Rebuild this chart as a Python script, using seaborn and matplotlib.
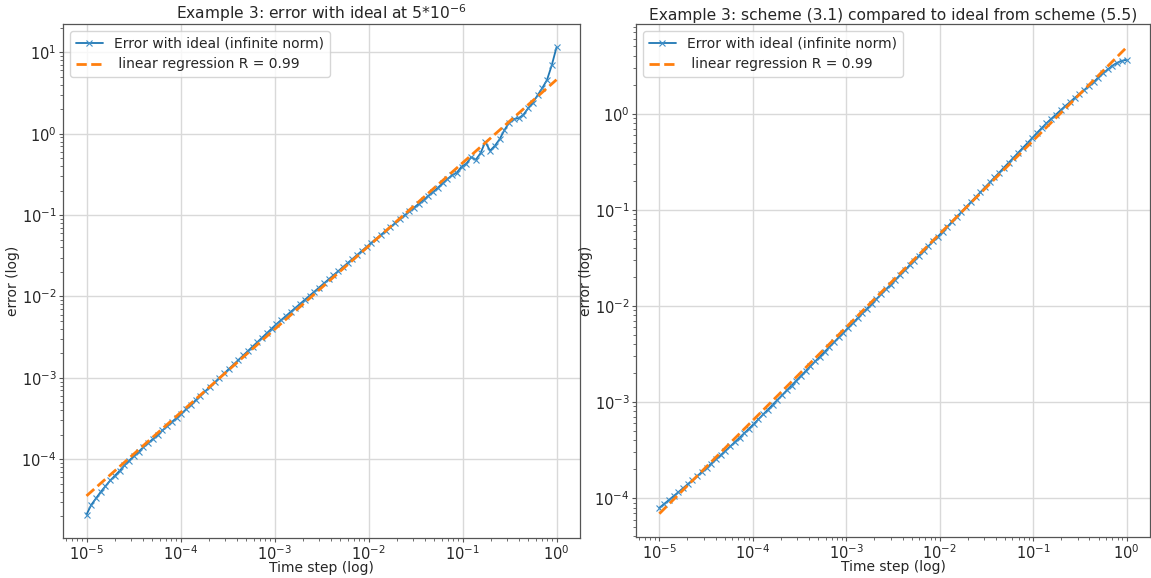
import numpy as np
import pandas as pd
import matplotlib
matplotlib.use("Agg")
import matplotlib.pyplot as plt
from matplotlib.ticker import NullFormatter
import seaborn as sns

# ---------------- data ----------------
n_steps = 100
time_step = np.logspace(-5, 0, n_steps)  # sampling grid of the experiment

# left panel: log10 of the error
err_left_log10 = [
    -4.68, -4.56, -4.48, -4.40, -4.33, -4.26, -4.20, -4.14, -4.075, -4.015,
    -3.96, -3.905, -3.85, -3.80, -3.75, -3.70, -3.645, -3.595, -3.54, -3.49,
    -3.44, -3.385, -3.33, -3.275, -3.22, -3.165, -3.11, -3.055, -3.00, -2.945,
    -2.89, -2.835, -2.78, -2.725, -2.67, -2.615, -2.56, -2.505, -2.45, -2.395,
    -2.34, -2.29, -2.24, -2.19, -2.14, -2.09, -2.04, -1.99, -1.94, -1.89,
    -1.84, -1.79, -1.74, -1.69, -1.64, -1.59, -1.54, -1.49, -1.44, -1.39,
    -1.34, -1.292, -1.244, -1.196, -1.148, -1.10, -1.052, -1.004, -0.956, -0.908,
    -0.86, -0.812, -0.764, -0.716, -0.665, -0.61, -0.56, -0.51, -0.48, -0.405,
    -0.37, -0.29, -0.32, -0.24, -0.10, -0.21, -0.15, -0.07, 0.04, 0.135,
    0.18, 0.19, 0.23, 0.31, 0.38, 0.47, 0.56, 0.66, 0.84, 1.06,
]
reg_left_x = [1e-5, 1.0]
reg_left_y = [3.55e-5, 4.6]

# right panel
err_right_log10 = [
    -4.100, -4.060, -4.020, -3.979, -3.938, -3.897, -3.855, -3.813, -3.770, -3.727,
    -3.684, -3.640, -3.596, -3.552, -3.507, -3.462, -3.416, -3.370, -3.323, -3.276,
    -3.228, -3.178, -3.128, -3.078, -3.028, -2.978, -2.928, -2.878, -2.828, -2.778,
    -2.728, -2.678, -2.628, -2.578, -2.528, -2.478, -2.428, -2.378, -2.328, -2.278,
    -2.228, -2.178, -2.128, -2.078, -2.028, -1.978, -1.928, -1.878, -1.828, -1.778,
    -1.728, -1.678, -1.628, -1.578, -1.528, -1.478, -1.428, -1.378, -1.328, -1.278,
    -1.228, -1.177, -1.125, -1.074, -1.023, -0.971, -0.920, -0.869, -0.818, -0.766,
    -0.715, -0.664, -0.613, -0.561, -0.510, -0.459, -0.407, -0.356, -0.305, -0.253,
    -0.20, -0.15, -0.10, -0.055, -0.01, 0.035, 0.08, 0.12, 0.165, 0.205,
    0.245, 0.29, 0.33, 0.375, 0.42, 0.46, 0.50, 0.53, 0.55, 0.56,
]
reg_right_x = [1e-5, 1.0]
reg_right_y = [6.9e-5, 4.9]

titles = ["Example 3: error with ideal at 5*$10^{-6}$",
          "Example 3: scheme (3.1) compared to ideal from scheme (5.5)"]
label_err = "Error with ideal (infinite norm)"
label_reg = " linear regression R = 0.99"
xlabel = "Time step (log)"
ylabel = "error (log)"

# ---------------- plot ----------------
sns.set_style("whitegrid")
plt.rcParams["font.family"] = ["DejaVu Sans"]

W, H = 1151, 578
fig = plt.figure(figsize=(W / 100, H / 100), dpi=100)
ax1 = fig.add_axes([63 / W, 1 - 538 / H, (580 - 63) / W, (538 - 24) / H])
ax2 = fig.add_axes([636 / W, 1 - 537 / H, (1150 - 636) / W, (537 - 24) / H])

panels = [
    (ax1, err_left_log10, reg_left_x, reg_left_y, titles[0], 20),
    (ax2, err_right_log10, reg_right_x, reg_right_y, titles[1], 593),
]
for ax, errlog, rx, ry, title, ylab_right in panels:
    df = pd.DataFrame({"step": time_step, "err": 10 ** np.array(errlog)})
    dfr = pd.DataFrame({"step": rx, "err": ry})
    sns.lineplot(data=df, x="step", y="err", ax=ax, color="#1f77b4", marker="x",
                 markersize=4.5, markeredgewidth=0.8, markeredgecolor="#3f8fc8",
                 linewidth=1.3, label=label_err)
    sns.lineplot(data=dfr, x="step", y="err", ax=ax, color="#ff7f0e", linestyle="--",
                 linewidth=2, label=label_reg)
    ax.set_xscale("log")
    ax.set_yscale("log")
    ax.set_title(title, fontsize=11.2, pad=3)
    ax.set_xlabel(xlabel, fontsize=10)
    ax.set_ylabel(ylabel, fontsize=10)
    bbox = ax.get_position()
    ax_w_px = bbox.width * W
    ax_h_px = bbox.height * H
    ax_left_px = bbox.x0 * W
    ax.xaxis.set_label_coords(0.5, -(561 - 538) / ax_h_px)
    ax.yaxis.set_label_coords((ylab_right - ax_left_px) / ax_w_px, 0.5)
    ax.grid(True, which="major", color="#d9d9d9", linewidth=1)
    ax.grid(False, which="minor")
    for s in ax.spines.values():
        s.set_color("#555555")
        s.set_linewidth(0.9)
    ax.tick_params(axis="both", which="major", labelsize=10.5, length=3, width=0.8,
                   color="#555555", left=True, bottom=True, pad=1.5)
    ax.tick_params(axis="both", which="minor", length=2, width=0.6,
                   color="#555555", left=True, bottom=True)
    ax.set_xticks([1e-5, 1e-4, 1e-3, 1e-2, 1e-1, 1e0])
    ax.xaxis.set_minor_formatter(NullFormatter())
    ax.yaxis.set_minor_formatter(NullFormatter())
    leg = ax.legend(loc="upper left", fontsize=10, frameon=True)
    leg.get_frame().set_edgecolor("#cccccc")

ax1.set_xlim(10 ** -5.25, 10 ** 0.25)
ax2.set_xlim(10 ** -5.25, 10 ** 0.25)

fig.savefig("out.png", dpi=100)
